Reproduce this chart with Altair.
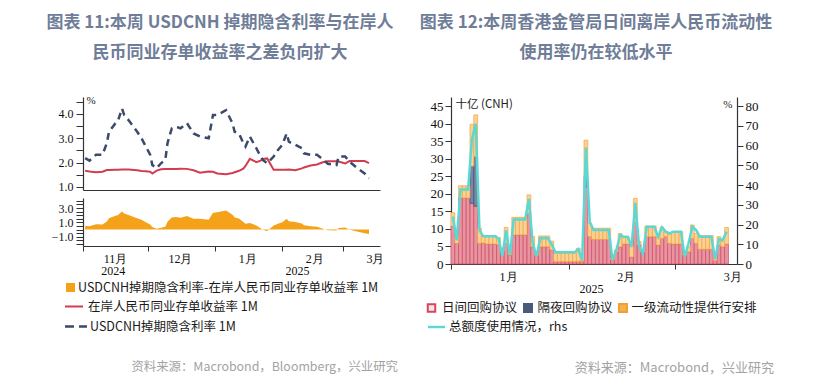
import altair as alt
import pandas as pd

CJK = "Noto Sans CJK SC"
SERIF = "Liberation Serif"
TITLE_C = "#6f7d98"

# ---------------- Left panel data (1M rates, %) ----------------
left_dates = ["2024-11-02", "2024-11-04", "2024-11-07", "2024-11-10", "2024-11-12", "2024-11-13",
              "2024-11-16", "2024-11-17", "2024-11-19", "2024-11-20", "2024-11-22", "2024-11-26",
              "2024-11-28", "2024-11-30", "2024-12-02", "2024-12-03", "2024-12-05", "2024-12-07",
              "2024-12-09", "2024-12-10", "2024-12-12", "2024-12-14", "2024-12-16", "2024-12-19",
              "2024-12-20", "2024-12-22", "2024-12-25", "2024-12-29", "2024-12-31", "2025-01-02",
              "2025-01-06", "2025-01-09", "2025-01-10", "2025-01-12", "2025-01-14", "2025-01-15",
              "2025-01-17", "2025-01-20", "2025-01-22", "2025-01-23", "2025-01-25", "2025-01-28",
              "2025-01-30", "2025-02-01", "2025-02-03", "2025-02-04", "2025-02-07", "2025-02-10",
              "2025-02-11", "2025-02-14", "2025-02-17", "2025-02-20", "2025-02-22", "2025-02-26",
              "2025-02-27", "2025-03-02", "2025-03-04", "2025-03-08", "2025-03-11", "2025-03-13"]
usdcnh_implied_1m = [2.18, 2.08, 2.32, 2.32, 2.80, 3.27, 3.62, 3.68, 4.23, 3.96,
                     3.75, 3.27, 3.00, 2.66, 2.32, 1.90, 1.77, 1.97, 2.11, 2.80,
                     3.41, 3.48, 3.41, 3.62, 3.48, 3.20, 3.07, 3.00, 3.96, 3.96,
                     4.16, 3.62, 3.27, 3.20, 2.80, 2.66, 3.07, 2.59, 2.25, 2.11,
                     1.97, 2.25, 2.52, 2.73, 3.20, 2.86, 2.73, 2.59, 2.38, 2.32,
                     2.32, 2.11, 1.95, 1.90, 2.25, 2.25, 2.04, 1.74, 1.55, 1.35]
onshore_ncd_1m = [1.66, 1.63, 1.60, 1.62, 1.69, 1.69, 1.70, 1.70, 1.71, 1.71,
                  1.71, 1.68, 1.65, 1.64, 1.62, 1.55, 1.67, 1.72, 1.73, 1.73,
                  1.74, 1.74, 1.75, 1.74, 1.72, 1.68, 1.58, 1.63, 1.62, 1.55,
                  1.52, 1.57, 1.60, 1.66, 1.75, 1.86, 2.15, 2.02, 2.08, 2.15,
                  2.17, 1.70, 1.70, 1.70, 1.70, 1.71, 1.68, 1.76, 1.80, 1.88,
                  1.92, 2.02, 2.05, 2.05, 2.04, 1.96, 2.06, 2.06, 2.06, 1.98]
left_year_dates = ["2024-11-15", "2025-02-08"]
left_year_labels = ["2024", "2025"]

# ---------------- Right panel data (CNH bn / %) ----------------
right_start = "2025-01-01"
intraday_repo = [10.8, 5.9, 18.8, 18.8, 18.8, 17.3, 16.5, 5.9, 6.0, 5.7,
                 5.7, 5.7, 5.5, 3.8, 5.9, 2.6, 8.3, 8.3, 8.3, 8.3,
                 14.4, 4.9, 2.5, 4.9, 4.9, 4.9, 4.0, 0.7, 0.7, 0.7,
                 0.7, 0.7, 0.7, 0.7, 0.8, 22.0, 7.8, 7.0, 7.0, 7.0,
                 7.0, 7.0, 1.2, 3.5, 4.9, 5.7, 5.7, 2.0, 11.9, 5.5,
                 3.5, 7.8, 7.8, 7.8, 5.4, 7.3, 7.8, 5.9, 5.7, 5.7,
                 5.7, 2.5, 3.5, 7.3, 5.9, 4.2, 4.2, 4.2, 4.2, 1.0,
                 5.4, 4.9, 5.7]
overnight_repo = [0, 0, 0, 0, 0, 10.6, 14.1, 0, 0, 0,
                  0, 0, 0, 0, 0, 0, 0, 0, 0, 0,
                  0, 0, 0, 0, 0, 0, 0, 0, 0, 0,
                  0, 0, 0, 0, 0, 3.0, 0, 0, 0, 0,
                  0, 0, 0, 0, 0, 0, 0, 0, 0, 0,
                  0, 0, 0, 0, 0, 0, 0, 0, 0, 0,
                  0, 0, 0, 0, 0, 0, 0, 0, 0, 0,
                  0, 0, 0]
primary_liquidity = [3.8, 2.1, 3.5, 3.5, 3.5, 11.9, 11.9, 4.3, 2.1, 2.4,
                     2.4, 2.4, 2.0, 0.7, 4.5, 0.4, 5.0, 5.0, 5.0, 5.0,
                     5.3, 2.9, 0.5, 3.1, 3.1, 3.1, 2.5, 2.3, 2.3, 2.3,
                     2.3, 2.3, 2.3, 3.8, 0.3, 10.3, 3.8, 3.2, 3.2, 3.2,
                     3.2, 3.2, 0.4, 0.5, 3.8, 1.9, 1.9, 2.9, 6.8, 0.9,
                     0.5, 3.0, 3.0, 3.0, 2.4, 3.2, 1.4, 2.6, 3.5, 3.5,
                     3.5, 0.5, 1.4, 3.8, 2.8, 3.9, 3.9, 3.9, 3.9, 0.5,
                     2.4, 1.5, 4.7]
usage_pct = [24, 12, 37.8, 37.8, 37.8, 63, 71, 17, 14, 14,
             14, 14, 13, 4, 17, 4.6, 22.6, 22.6, 22.6, 22.6,
             33, 10.5, 4, 13, 13, 13, 10, 5.9, 5.9, 5.9,
             5.9, 5.9, 5.9, 7.4, 2, 59, 21.4, 17.2, 17.2, 17.2,
             17.2, 17.2, 2, 7, 14.7, 13.8, 13.8, 8.8, 31, 8.8,
             5.4, 18.9, 18.9, 18.9, 13.8, 18.6, 16.4, 15.5, 16.4, 16.4,
             16.4, 3.7, 10.5, 18.9, 17.2, 13.8, 13.8, 13.8, 13.8, 2.5,
             12.7, 12.2, 16.4]
series_names = ["日间回购协议", "隔夜回购协议", "一级流动性提供行安排"]
series_fill = ["#e596a2", "#7c87a2", "#fbd196"]
series_stroke = ["#d4475c", "#3f4d6e", "#f2a53a"]
right_year_dates = ["2025-02-07"]
right_year_labels = ["2025"]

# ---------------- Build tables ----------------
left_df = pd.DataFrame({"date": left_dates, "implied": usdcnh_implied_1m, "ncd": onshore_ncd_1m})
left_years = pd.DataFrame({"date": left_year_dates, "label": left_year_labels})

rdates = pd.date_range(right_start, periods=len(intraday_repo), freq="D")
start_s = list(rdates.strftime("%Y-%m-%d"))
end_s = list((rdates + pd.Timedelta(days=1)).strftime("%Y-%m-%d"))
mid_s = list((rdates + pd.Timedelta(hours=12)).strftime("%Y-%m-%dT%H:%M:%SZ"))
rows = []
for k, (name, vals) in enumerate(zip(series_names, [intraday_repo, overnight_repo, primary_liquidity])):
    for s, e, v in zip(start_s, end_s, vals):
        rows.append({"start": s, "end": e, "series": name, "k": k, "value": v})
bar_df = pd.DataFrame(rows)
line_df = pd.DataFrame({"mid": mid_s, "usage": usage_pct})
right_years = pd.DataFrame({"date": right_year_dates, "label": right_year_labels})
one = pd.DataFrame({"k": [0]})


def dt(y, m, d, h=0):
    return alt.DateTime(year=y, month=m, date=d, hours=h, utc=True)


def anchor(x0, x1):
    # invisible white spacer that fixes the layout bounds of a column
    return alt.Chart(one).mark_rect(color="white").encode(
        x=alt.value(x0), x2=alt.value(x1), y=alt.value(0), y2=alt.value(1))


# ---------------- Left panel ----------------
LW = 297
lx_scale = alt.Scale(type="utc", domain=[dt(2024, 11, 1), dt(2025, 3, 18, 2)])
lx_axis_top = alt.Axis(labels=False, ticks=False, title=None, domain=True, grid=False)
lx_axis_bot = alt.Axis(values=[dt(2024, 11, 1), dt(2024, 12, 1), dt(2025, 1, 1), dt(2025, 2, 1), dt(2025, 3, 1)],
                       labelExpr="(utcmonth(datum.value) + 1) + '月'", labelOffset=32, labelFlush=False,
                       labelOverlap=False, tickSize=5, labelPadding=2, title=None, grid=False)
ly_axis_top = alt.Axis(values=[1.0, 1.5, 2.0, 2.5, 3.0, 3.5, 4.0, 4.5],
                       labelExpr="datum.value % 1 === 0 ? format(datum.value, '.1f') : ''",
                       labelOverlap=False, tickSize=7, labelPadding=3, grid=False,
                       title="%", titleAngle=0, titleAlign="left", titleBaseline="top",
                       titleX=3, titleY=-3, titleFont=SERIF, titleFontSize=11, titleFontWeight="normal",
                       titleColor="#222")
ly_scale_top = alt.Scale(domain=[0.87, 4.70], nice=False, zero=False)

ncd_line = alt.Chart(left_df).mark_line(color="#d23c50", strokeWidth=2).encode(
    x=alt.X("date:T", scale=lx_scale, axis=lx_axis_top),
    y=alt.Y("ncd:Q", scale=ly_scale_top, axis=ly_axis_top))
implied_line = alt.Chart(left_df).mark_line(color="#3b4a6b", strokeWidth=2.5, strokeDash=[7, 5]).encode(
    x=alt.X("date:T", scale=lx_scale, axis=lx_axis_top),
    y=alt.Y("implied:Q", scale=ly_scale_top, axis=ly_axis_top))
top_chart = alt.layer(ncd_line, implied_line).properties(width=LW, height=93)

ly_axis_bot = alt.Axis(values=[-2.0, -1.5, -1.0, -0.5, 0.0, 0.5, 1.0, 1.5, 2.0, 2.5, 3.0, 3.5, 4.0],
                       labelExpr="indexof([3, 1, -1], datum.value) >= 0 ? format(datum.value, '.1f') : ''",
                       labelOverlap=False, tickSize=7, labelPadding=3, grid=False, title=None)
spread_area = alt.Chart(left_df).transform_calculate(
    spread="datum.implied - datum.ncd"
).mark_area(color="#f5a21b").encode(
    x=alt.X("date:T", scale=lx_scale, axis=lx_axis_bot),
    y=alt.Y("spread:Q", scale=alt.Scale(domain=[-2.3, 4.4], nice=False, zero=False), axis=ly_axis_bot),
    y2=alt.Y2Datum(0))
left_year_text = alt.Chart(left_years).mark_text(font=SERIF, fontSize=12, color="#111", baseline="middle").encode(
    x=alt.X("date:T", scale=lx_scale, axis=lx_axis_bot), y=alt.value(73), text="label:N")
bottom_chart = alt.layer(spread_area, left_year_text).properties(width=LW, height=48)


def title_layers(lines, cx):
    out = []
    for txt_, yy in zip(lines, [14.5, 44.5]):
        out.append(alt.Chart(one).mark_text(text=txt_, font=CJK, fontSize=17, fontWeight="bold",
                                            color=TITLE_C, align="center", baseline="middle")
                   .encode(x=alt.value(cx), y=alt.value(yy)))
    return out


left_header = alt.layer(anchor(-75, 0), anchor(321, 322), *title_layers(
    ["图表 11:本周 USDCNH 掉期隐含利率与在岸人", "民币同业存单收益率之差负向扩大"], 137)
).properties(width=LW, height=81)


def txt(t, x, y, size=12.5, color="#1a1a1a", align="left", font=CJK):
    return alt.Chart(one).mark_text(text=t, font=font, fontSize=size, color=color, align=align,
                                    baseline="middle").encode(x=alt.value(x), y=alt.value(y))


left_footer = alt.layer(
    alt.Chart(one).mark_square(size=81, color="#f5a21b", opacity=1).encode(x=alt.value(-12.5), y=alt.value(33.5)),
    txt("USDCNH掉期隐含利率-在岸人民币同业存单收益率 1M", -5, 33.5),
    alt.Chart(one).mark_rule(color="#d23c50", strokeWidth=2).encode(x=alt.value(-18), x2=alt.value(0), y=alt.value(52.5)),
    txt("在岸人民币同业存单收益率 1M", 5, 52.5),
    alt.Chart(one).mark_rule(color="#3b4a6b", strokeWidth=2.5, strokeDash=[9, 5]).encode(
        x=alt.value(-18), x2=alt.value(4), y=alt.value(72.5)),
    txt("USDCNH掉期隐含利率 1M", 7, 72.5),
    txt("资料来源：Macrobond，Bloomberg，兴业研究", 315, 113, size=12.4, color="#a3a3a3", align="right"),
).properties(width=LW, height=126)

left_col = alt.vconcat(left_header, top_chart, bottom_chart, left_footer, spacing=8, bounds="flush")

# ---------------- Right panel ----------------
RW = 286
rx_scale = alt.Scale(type="utc", domain=[dt(2025, 1, 1), dt(2025, 3, 17, 6)])
rx_axis = alt.Axis(values=[dt(2025, 1, 1), dt(2025, 2, 1), dt(2025, 3, 1)],
                   labelExpr="(utcmonth(datum.value) + 1) + '月'", labelOffset=57, labelFlush=False,
                   labelOverlap=False, tickSize=5, labelPadding=2, title=None, grid=False)
ry_axis = alt.Axis(values=list(range(0, 50, 5)), orient="left", tickSize=6, labelPadding=2, grid=False,
                   labelFontSize=13, labelOverlap=False, title="十亿 (CNH)", titleAngle=0, titleAlign="left",
                   titleBaseline="top", titleX=4, titleY=1, titleFont=CJK, titleFontSize=11.5,
                   titleFontWeight="normal", titleColor="#222")
ry2_axis = alt.Axis(values=list(range(0, 90, 10)), orient="right", tickSize=6, labelPadding=2, grid=False,
                    labelFontSize=13, labelOverlap=False, title="%", titleAngle=0, titleAlign="right",
                    titleBaseline="top", titleX=-5, titleY=1, titleFont=SERIF, titleFontSize=11,
                    titleFontWeight="normal", titleColor="#222")

bars = alt.Chart(bar_df).transform_filter("datum.value > 0").transform_stack(
    stack="value", groupby=["start"], sort=[alt.SortField("k", order="ascending")], as_=["y0", "y1"]
).mark_rect(strokeWidth=0.7).encode(
    x=alt.X("start:T", scale=rx_scale, axis=rx_axis),
    x2="end:T",
    y=alt.Y("y0:Q", scale=alt.Scale(domain=[0, 47.6], nice=False, zero=False), axis=ry_axis),
    y2="y1:Q",
    fill=alt.Fill("series:N", scale=alt.Scale(domain=series_names, range=series_fill), legend=None),
    stroke=alt.Stroke("series:N", scale=alt.Scale(domain=series_names, range=series_stroke), legend=None))
usage_line = alt.Chart(line_df).mark_line(color="#5cd8d4", strokeWidth=2.5).encode(
    x=alt.X("mid:T", scale=rx_scale, axis=rx_axis),
    y=alt.Y("usage:Q", scale=alt.Scale(domain=[0, 84.6], nice=False, zero=False), axis=ry2_axis))
right_year_text = alt.Chart(right_years).mark_text(font=SERIF, fontSize=12, color="#111", baseline="middle").encode(
    x=alt.X("date:T", scale=rx_scale, axis=rx_axis), y=alt.value(192), text="label:N")
right_plot = alt.layer(bars, usage_line, right_year_text).resolve_scale(y="independent").properties(
    width=RW, height=167)

right_header = alt.layer(anchor(-46, -45), *title_layers(
    ["图表 12:本周香港金管局日间离岸人民币流动性", "使用率仍在较低水平"], 145)
).properties(width=RW, height=81)

right_footer = alt.layer(
    alt.Chart(one).mark_square(size=56, fill="#f8e3e6", stroke="#d4475c", strokeWidth=2, opacity=1).encode(
        x=alt.value(-19.5), y=alt.value(36)),
    txt(series_names[0], -9, 36),
    alt.Chart(one).mark_square(size=64, fill="#4b5a7b", stroke="#4b5a7b", opacity=1).encode(
        x=alt.value(77), y=alt.value(36)),
    txt(series_names[1], 86.5, 36),
    alt.Chart(one).mark_square(size=64, fill="#f6b24a", stroke="#f0a030", opacity=1).encode(
        x=alt.value(172), y=alt.value(36)),
    txt(series_names[2], 180.5, 36),
    alt.Chart(one).mark_rule(color="#5cd8d4", strokeWidth=2.5).encode(x=alt.value(-23), x2=alt.value(-6), y=alt.value(55)),
    txt("总额度使用情况，rhs", -2, 55),
    txt("资料来源：Macrobond，兴业研究", 323, 96, size=13, color="#a3a3a3", align="right"),
).properties(width=RW, height=108)

right_col = alt.vconcat(right_header, right_plot, right_footer, spacing=8, bounds="flush")

chart = alt.hconcat(left_col, right_col, spacing=0).properties(
    padding=0, background="white"
).configure_view(strokeWidth=0).configure_axis(
    domainColor="#333333", tickColor="#333333", domainWidth=1.2, tickWidth=1,
    labelColor="#111111", labelFont=SERIF, labelFontSize=12, grid=False)

chart.save("out.html", embed_options={"renderer": "svg", "actions": False})
